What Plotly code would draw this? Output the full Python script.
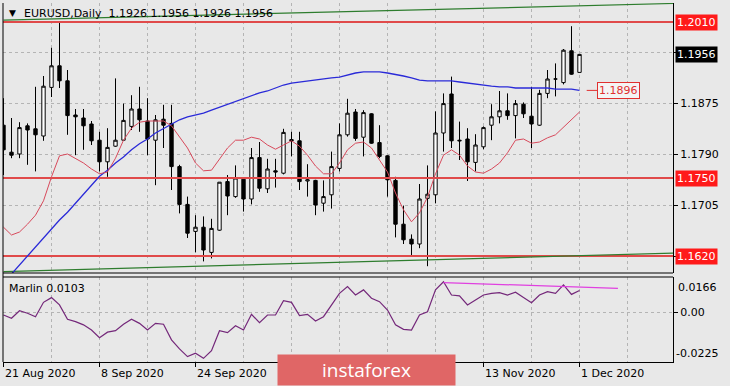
import plotly.graph_objects as go

# ---------------- data ----------------
opens = [1.1838, 1.1793, 1.1790, 1.1837, 1.1832, 1.1820, 1.1901, 1.1937, 1.1912, 1.1855,
         1.1850, 1.1840, 1.1813, 1.1777, 1.1803, 1.1813, 1.1836, 1.1865, 1.1845, 1.1813,
         1.1848, 1.1841, 1.1769, 1.1706, 1.1661, 1.1668, 1.1626, 1.1663, 1.1744, 1.1719,
         1.1748, 1.1715, 1.1784, 1.1732, 1.1762, 1.1758, 1.1814, 1.1812, 1.1745, 1.1746,
         1.1708, 1.1722, 1.1766, 1.1822, 1.1860, 1.1818, 1.1857, 1.1809, 1.1787, 1.1746,
         1.1673, 1.1648, 1.1640, 1.1716, 1.1722, 1.1825, 1.1890, 1.1813, 1.1815, 1.1776,
         1.1802, 1.1838, 1.1852, 1.1862, 1.1854, 1.1873, 1.1853, 1.1838, 1.1891, 1.1915,
         1.1909, 1.1962, 1.1926]
highs = [1.1883, 1.1850, 1.1843, 1.1841, 1.1902, 1.1920, 1.1967, 1.2011, 1.1930, 1.1865,
         1.1865, 1.1845, 1.1827, 1.1833, 1.1916, 1.1874, 1.1888, 1.1902, 1.1883, 1.1855,
         1.1872, 1.1872, 1.1772, 1.1719, 1.1688, 1.1686, 1.1682, 1.1743, 1.1755, 1.1771,
         1.1750, 1.1800, 1.1810, 1.1782, 1.1782, 1.1832, 1.1827, 1.1827, 1.1773, 1.1747,
         1.1746, 1.1794, 1.1841, 1.1882, 1.1865, 1.1863, 1.1858, 1.1838, 1.1788, 1.1752,
         1.1704, 1.1656, 1.1740, 1.1771, 1.1861, 1.1891, 1.1919, 1.1844, 1.1833, 1.1823,
         1.1836, 1.1873, 1.1895, 1.1891, 1.1880, 1.1876, 1.1902, 1.1897, 1.1930, 1.1941,
         1.1965, 1.2003, 1.1956]
lows = [1.1755, 1.1783, 1.1783, 1.1772, 1.1761, 1.1812, 1.1885, 1.1900, 1.1822, 1.1788,
        1.1797, 1.1805, 1.1761, 1.1752, 1.1802, 1.1812, 1.1830, 1.1827, 1.1788, 1.1738,
        1.1800, 1.1730, 1.1691, 1.1650, 1.1626, 1.1611, 1.1616, 1.1662, 1.1688, 1.1717,
        1.1694, 1.1706, 1.1727, 1.1725, 1.1734, 1.1756, 1.1786, 1.1730, 1.1719, 1.1688,
        1.1694, 1.1699, 1.1761, 1.1819, 1.1812, 1.1786, 1.1807, 1.1783, 1.1719, 1.1651,
        1.1640, 1.1621, 1.1633, 1.1603, 1.1708, 1.1794, 1.1800, 1.1780, 1.1745, 1.1761,
        1.1798, 1.1813, 1.1841, 1.1847, 1.1816, 1.1850, 1.1800, 1.1837, 1.1883, 1.1886,
        1.1906, 1.1922, 1.1926]
closes = [1.1797, 1.1788, 1.1834, 1.1830, 1.1822, 1.1903, 1.1937, 1.1912, 1.1854, 1.1852,
          1.1837, 1.1812, 1.1777, 1.1801, 1.1813, 1.1846, 1.1865, 1.1847, 1.1815, 1.1847,
          1.1838, 1.1769, 1.1706, 1.1658, 1.1668, 1.1630, 1.1666, 1.1743, 1.1720, 1.1750,
          1.1715, 1.1784, 1.1733, 1.1765, 1.1760, 1.1826, 1.1812, 1.1744, 1.1747, 1.1705,
          1.1719, 1.1769, 1.1822, 1.1858, 1.1816, 1.1859, 1.1808, 1.1786, 1.1747, 1.1673,
          1.1647, 1.1640, 1.1715, 1.1723, 1.1825, 1.1874, 1.1812, 1.1812, 1.1777, 1.1805,
          1.1834, 1.1852, 1.1862, 1.1854, 1.1874, 1.1857, 1.1840, 1.1891, 1.1915, 1.1915,
          1.1963, 1.1923, 1.1956]

blue_ma = [1.1575, 1.1590, 1.1605, 1.1620, 1.1635, 1.1650, 1.1665, 1.1680, 1.1693, 1.1708,
           1.1723, 1.1738, 1.1753, 1.1763, 1.1775, 1.1785, 1.1797, 1.1807, 1.1815, 1.1825,
           1.1832, 1.1840, 1.1847, 1.1852, 1.1855, 1.1858, 1.1863, 1.1868, 1.1873, 1.1878,
           1.1883, 1.1888, 1.1892, 1.1895, 1.1900, 1.1905, 1.1908, 1.1910, 1.1912, 1.1913,
           1.1915, 1.1917, 1.1918, 1.1922, 1.1925, 1.1927, 1.1927, 1.1927, 1.1925, 1.1923,
           1.1920, 1.1917, 1.1913, 1.1912, 1.1912, 1.1913, 1.1912, 1.1910, 1.1908, 1.1907,
           1.1905, 1.1903, 1.1902, 1.1902, 1.1900, 1.1900, 1.1900, 1.1900, 1.1900, 1.1898,
           1.1898, 1.1898, 1.1896]
red_line = [1.1668, 1.1655, 1.1660, 1.1673, 1.1688, 1.1712, 1.1752, 1.1787, 1.1790, 1.1783,
            1.1775, 1.1765, 1.1757, 1.1760, 1.1783, 1.1813, 1.1833, 1.1843, 1.1845, 1.1845,
            1.1845, 1.1837, 1.1818, 1.1800, 1.1775, 1.1762, 1.1763, 1.1782, 1.1800, 1.1813,
            1.1813, 1.1818, 1.1815, 1.1805, 1.1798, 1.1805, 1.1812, 1.1803, 1.1788, 1.1770,
            1.1757, 1.1757, 1.1775, 1.1797, 1.1808, 1.1810, 1.1800, 1.1780, 1.1760, 1.1725,
            1.1697, 1.1677, 1.1692, 1.1718, 1.1757, 1.1788, 1.1797, 1.1788, 1.1770, 1.1760,
            1.1758, 1.1765, 1.1775, 1.1792, 1.1813, 1.1815, 1.1808, 1.1810, 1.1817, 1.1822,
            1.1835, 1.1848, 1.1860]
marlin = [-0.0011, -0.0026, 0.0009, -0.0003, -0.0019, 0.0048, 0.0070, 0.0036, -0.0031, -0.0042,
          -0.0057, -0.0081, -0.0117, -0.0091, -0.0084, -0.0054, -0.0031, -0.0050, -0.0081, -0.0050,
          -0.0054, -0.0127, -0.0169, -0.0205, -0.0189, -0.0213, -0.0177, -0.0084, -0.0093, -0.0061,
          -0.0081, -0.0008, -0.0047, -0.0011, -0.0011, 0.0056, 0.0048, -0.0014, -0.0008, -0.0039,
          -0.0019, 0.0036, 0.0090, 0.0121, 0.0082, 0.0106, 0.0067, 0.0051, 0.0012, -0.0057,
          -0.0078, -0.0081, -0.0011, 0.0004, 0.0106, 0.0144, 0.0082, 0.0078, 0.0036, 0.0059,
          0.0082, 0.0090, 0.0093, 0.0082, 0.0095, 0.0071, 0.0046, 0.0082, 0.0098, 0.0090,
          0.0129, 0.0085, 0.0103]

levels = [1.2010, 1.1750, 1.1620]            # red horizontal levels
ma_label = 1.1896
channel_upper = [(0, 1.2013), (84, 1.2041)]
channel_lower = [(0, 1.1594), (84, 1.1625)]
marlin_trend = [(55, 0.0140), (76.8, 0.0113)]

x_tick_bars = [0, 12, 24, 36, 48, 60, 72]
x_tick_labels = ["21 Aug 2020", "8 Sep 2020", "24 Sep 2020", "", "", "13 Nov 2020", "1 Dec 2020"]
y_tick_vals = [1.1620, 1.1705, 1.1790, 1.1875, 1.1960]
y_tick_text = ["", "1.1705", "1.1790", "1.1875", ""]

# ---------------- figure ----------------
n = len(closes)
xs = list(range(n))
W, H = 730, 386
ML, MR, MT, MB = 3, 57, 3, 24
ph = H - MT - MB
main_bottom = (H - MB - 273) / ph
osc_top = (H - MB - 277) / ph

BG = "#e8e8e8"
FONT = "DejaVu Sans"

fig = go.Figure()
fig.add_trace(go.Candlestick(
    x=xs, open=opens, high=highs, low=lows, close=closes,
    increasing=dict(line=dict(color="black", width=1), fillcolor="white"),
    decreasing=dict(line=dict(color="black", width=1), fillcolor="black"),
    whiskerwidth=0, xaxis="x", yaxis="y", showlegend=False, hoverinfo="skip"))

for lv in levels:
    fig.add_trace(go.Scatter(x=[-1, 90], y=[lv, lv], mode="lines",
                             line=dict(color="#e04a4a", width=2), xaxis="x", yaxis="y",
                             showlegend=False, hoverinfo="skip"))
for ch in (channel_upper, channel_lower):
    fig.add_trace(go.Scatter(x=[p[0] for p in ch], y=[p[1] for p in ch], mode="lines",
                             line=dict(color="#2e7d2e", width=1.2), xaxis="x", yaxis="y",
                             showlegend=False, hoverinfo="skip"))
fig.add_trace(go.Scatter(x=xs, y=blue_ma, mode="lines", line=dict(color="#2a2ad8", width=1.3),
                         xaxis="x", yaxis="y", showlegend=False, hoverinfo="skip"))
fig.add_trace(go.Scatter(x=xs, y=red_line, mode="lines", line=dict(color="#d84a5c", width=1),
                         xaxis="x", yaxis="y", showlegend=False, hoverinfo="skip"))
# short connector to the MA label
fig.add_trace(go.Scatter(x=[n - 1 + 0.9, n - 1 + 2.2], y=[ma_label, ma_label], mode="lines",
                         line=dict(color="#e03030", width=1), xaxis="x", yaxis="y",
                         showlegend=False, hoverinfo="skip"))

# oscillator
fig.add_trace(go.Scatter(x=xs, y=marlin, mode="lines", line=dict(color="#74287a", width=1.2),
                         xaxis="x2", yaxis="y2", showlegend=False, hoverinfo="skip"))
fig.add_trace(go.Scatter(x=[p[0] for p in marlin_trend], y=[p[1] for p in marlin_trend],
                         mode="lines", line=dict(color="#e040e0", width=1.2),
                         xaxis="x2", yaxis="y2", showlegend=False, hoverinfo="skip"))

xr = [(ML - 3.5) / 8, (W - MR - 3.5) / 8]
grid_major = dict(showgrid=True, gridcolor="#b4b4b4", griddash="dot", gridwidth=1)
fig.update_layout(
    width=W, height=H, margin=dict(l=ML, r=MR, t=MT, b=MB),
    paper_bgcolor=BG, plot_bgcolor=BG, boxgap=0.4,
    font=dict(family=FONT, size=11, color="black"),
    xaxis=dict(domain=[0, 1], anchor="y", range=xr, tickvals=x_tick_bars, showticklabels=False,
               ticks="", zeroline=False, showline=False, rangeslider=dict(visible=False),
               minor=dict(tickvals=[6, 18, 30, 42, 54, 66, 78], showgrid=True,
                          gridcolor="#b4b4b4", griddash="dot"), **grid_major),
    yaxis=dict(domain=[main_bottom, 1], anchor="x", side="right", range=[1.159167, 1.204167],
               tickvals=y_tick_vals, ticktext=y_tick_text, ticks="outside", ticklen=4,
               tickcolor="black", showline=True, linecolor="black", linewidth=1,
               zeroline=False, **grid_major),
    xaxis2=dict(domain=[0, 1], anchor="y2", matches="x", range=xr, tickvals=x_tick_bars,
                showticklabels=False, ticks="outside", ticklen=4, tickcolor="black",
                showline=True, linecolor="black", zeroline=False,
                minor=dict(tickvals=[6, 18, 30, 42, 54, 66, 78], showgrid=True,
                           gridcolor="#b4b4b4", griddash="dot"), **grid_major),
    yaxis2=dict(domain=[0, osc_top], anchor="x2", side="right", range=[-0.0230, 0.0166],
                tickvals=[0], ticktext=["0.00"], ticks="outside", ticklen=4, tickcolor="black",
                showline=True, linecolor="black", zeroline=False, **grid_major),
)

shapes = [
    dict(type="line", xref="paper", yref="paper", x0=0, x1=1, y0=main_bottom, y1=main_bottom,
         line=dict(color="black", width=1)),
    dict(type="line", xref="paper", yref="paper", x0=0, x1=1, y0=osc_top, y1=osc_top,
         line=dict(color="black", width=1)),
    dict(type="line", xref="paper", yref="paper", x0=0, x1=0, y0=0, y1=1,
         line=dict(color="black", width=1)),
]
fig.update_layout(shapes=shapes)

ann = []
# header
ann.append(dict(xref="paper", yref="paper", x=0, y=1, xanchor="left", yanchor="top",
                xshift=4, yshift=-3, text="▼", showarrow=False, font=dict(size=9)))
ann.append(dict(xref="paper", yref="paper", x=0, y=1, xanchor="left", yanchor="top",
                xshift=19, yshift=-2,
                text=f"EURUSD,Daily  {opens[-1]:.4f} {highs[-1]:.4f} {lows[-1]:.4f} {closes[-1]:.4f}",
                showarrow=False, font=dict(size=11)))
ann.append(dict(xref="paper", yref="paper", x=0, y=osc_top, xanchor="left", yanchor="top",
                xshift=4, yshift=-3, text=f"Marlin {marlin[-1]:.4f}", showarrow=False,
                font=dict(size=11)))
# right side price boxes
for lv in levels:
    ann.append(dict(xref="paper", yref="y", x=1, y=lv, xanchor="left", xshift=2,
                    text=f"{lv:.4f}", showarrow=False, bgcolor="#ff1a1a",
                    font=dict(color="white", size=11), borderpad=1))
ann.append(dict(xref="paper", yref="y", x=1, y=closes[-1], xanchor="left", xshift=2,
                text=f"{closes[-1]:.4f}", showarrow=False, bgcolor="black",
                font=dict(color="white", size=11), borderpad=1))
ann.append(dict(xref="x", yref="y", x=n - 1 + 2.2, y=ma_label, xanchor="left",
                text=f"{ma_label:.4f}", showarrow=False, bgcolor="#f4f4f4",
                bordercolor="#e03030", borderwidth=1, borderpad=1,
                font=dict(color="#e03030", size=11)))
# oscillator extreme labels
ann.append(dict(xref="paper", yref="y2", x=1, y=0.0166, xanchor="left", yanchor="top",
                xshift=3, yshift=-2, text="0.0166", showarrow=False, font=dict(size=11)))
ann.append(dict(xref="paper", yref="y2", x=1, y=-0.0230, xanchor="left", yanchor="bottom",
                xshift=1, yshift=0, text="-0.0225", showarrow=False, font=dict(size=11)))
# x labels (left-aligned at tick)
for b, t in zip(x_tick_bars, x_tick_labels):
    if t:
        ann.append(dict(xref="x2", yref="paper", x=b, y=0, xanchor="left", yanchor="top",
                        xshift=-1, yshift=-3, text=t, showarrow=False, font=dict(size=11)))
# watermark
ann.append(dict(xref="paper", yref="paper", x=(277 - ML) / (W - ML - MR), y=-MB / ph,
                xanchor="left", yanchor="bottom", text="instaforex", showarrow=False,
                width=175, height=28, bgcolor="#e06666", align="center",
                font=dict(color="white", size=19, family="Open Sans")))
fig.update_layout(annotations=ann)

fig.write_html("out.html", config={"displayModeBar": False},
               post_script="document.body.style.margin='0';")
